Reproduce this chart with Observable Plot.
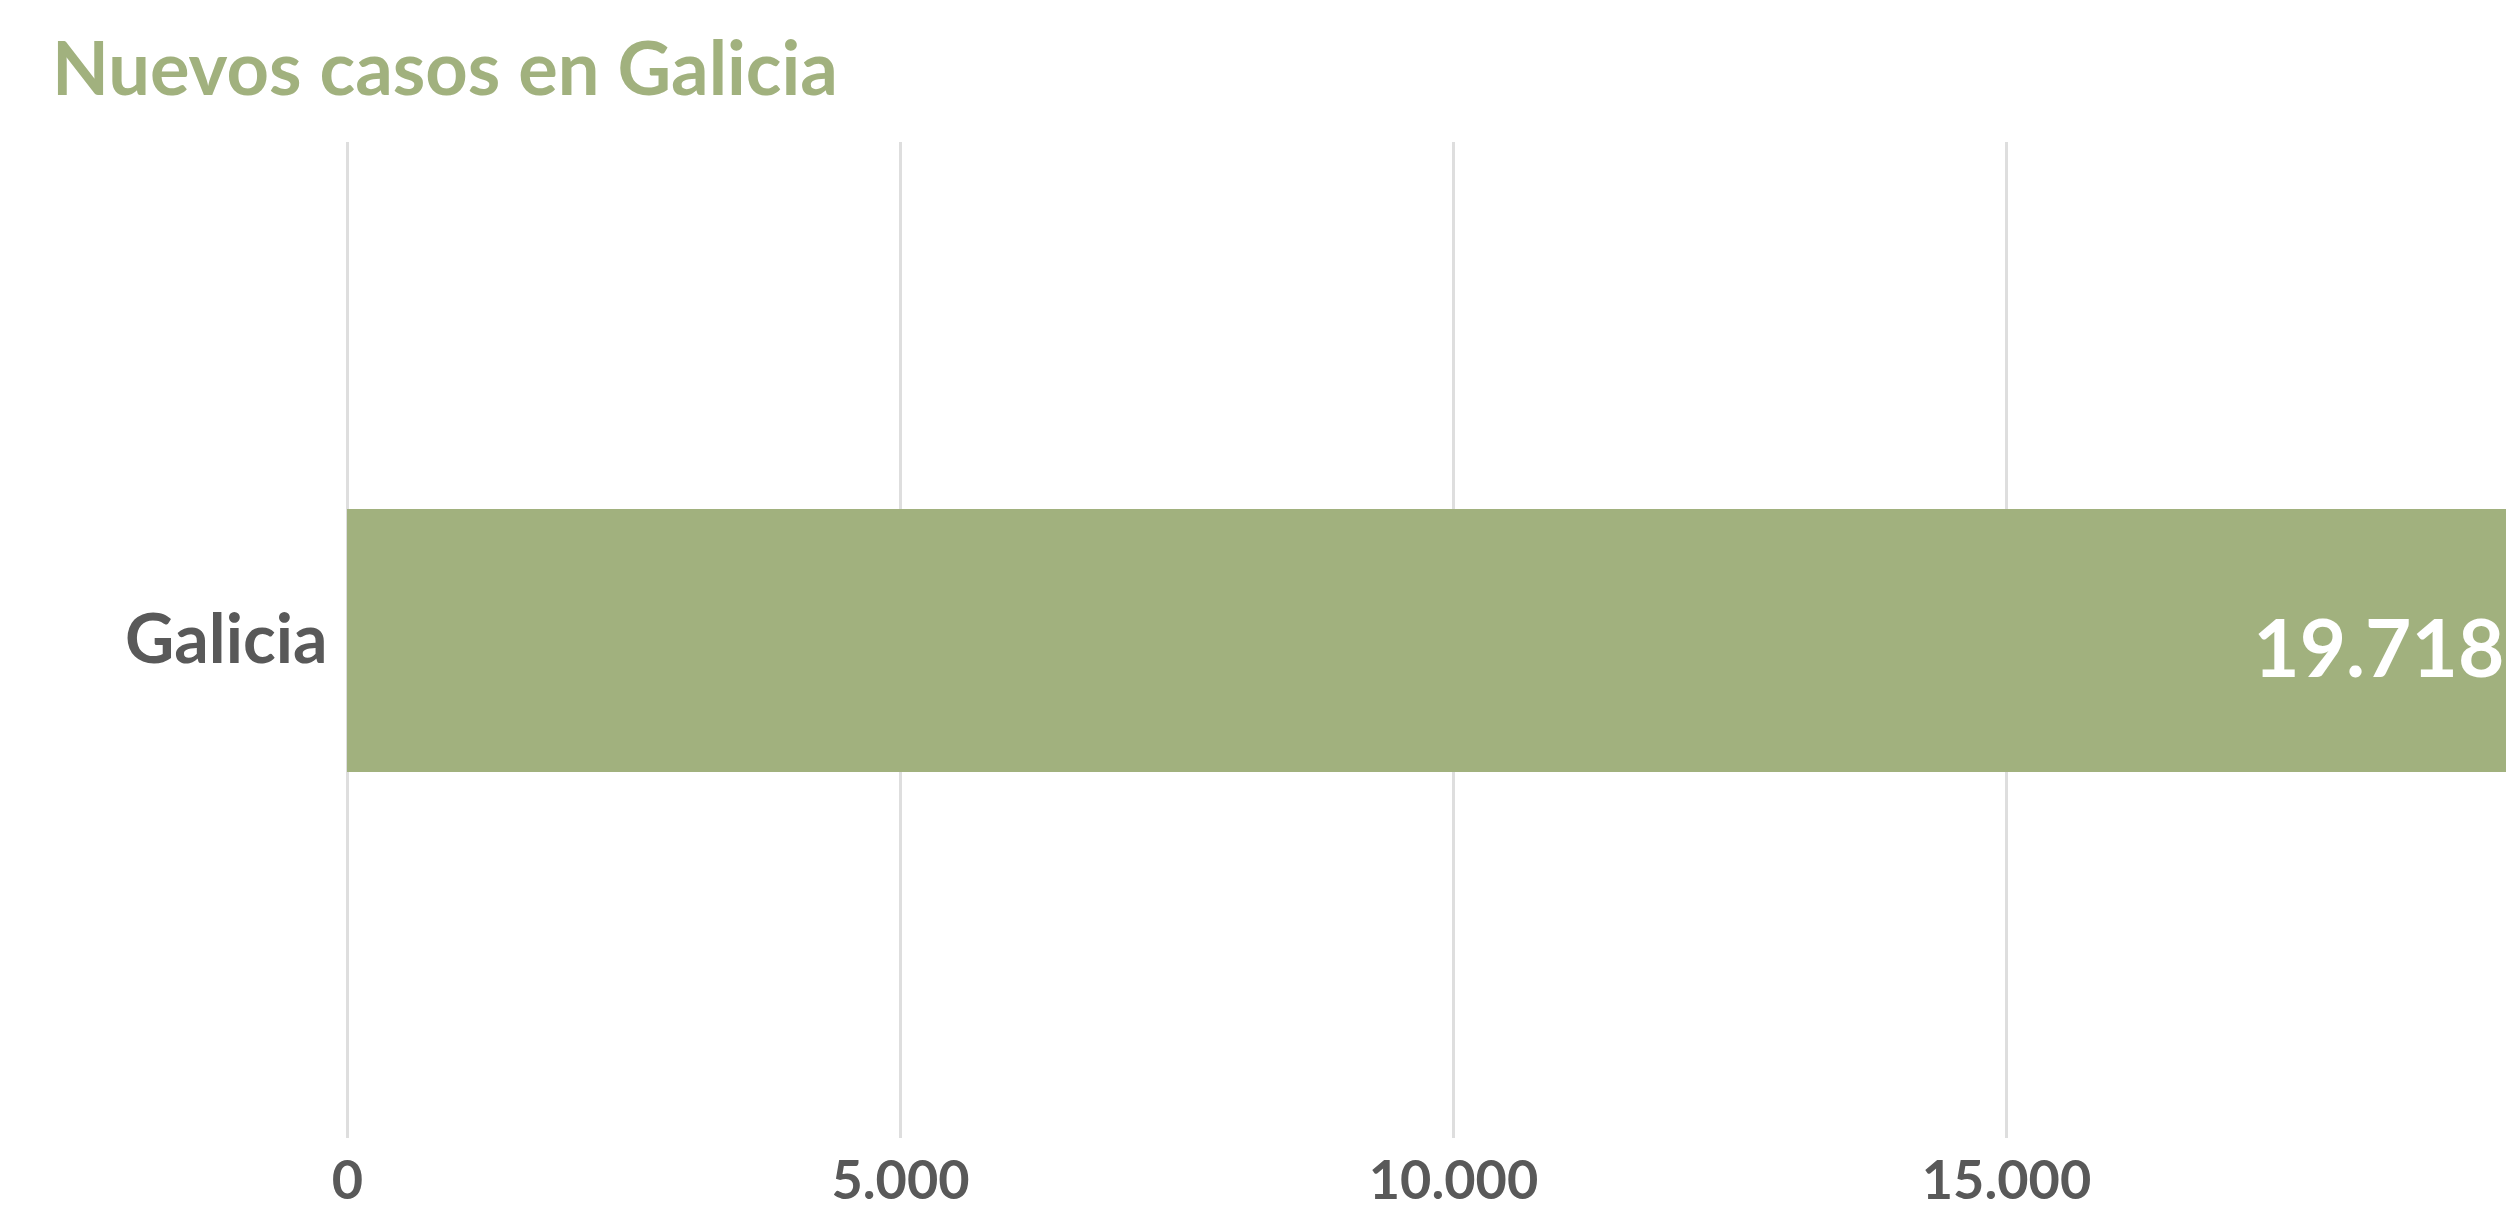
<!DOCTYPE html>
<html>
<head>
<meta charset="utf-8">
<script src="https://cdn.jsdelivr.net/npm/d3@7"></script>
<script src="https://cdn.jsdelivr.net/npm/@observablehq/plot@0.6"></script>
<style>
  html, body { margin: 0; padding: 0; background: #ffffff; overflow: hidden; }
  #title {
    box-sizing: border-box;
    height: 130px;
    padding-top: 30px;
    padding-left: 52px;
    font-family: Lato, "Open Sans", sans-serif;
    font-weight: 700;
    font-size: 74px;
    line-height: 74px;
    color: #a1b17e;
    white-space: nowrap;
  }
  #chart svg { display: block; }
</style>
</head>
<body>
<div id="title">Nuevos casos en Galicia</div>
<div id="chart"></div>
<script>
// ---- data ----
const categories = ["Galicia"];
const values = [19718];
const tickValues = [0, 5000, 10000, 15000, 20000];
const tickLabelValues = [0, 5000, 10000, 15000];

// Spanish number format (thousands separator ".")
const es = d3.formatLocale({decimal: ",", thousands: ".", grouping: [3], currency: ["", " €"]});
const fmt = es.format(",");

const rows = categories.map((c, i) => ({category: c, value: values[i]}));

const green = "#a1b17e";
const grey = "#595959";

const chart = Plot.plot({
  width: 2506,
  height: 1080,
  marginTop: 12,
  marginBottom: 72,
  marginLeft: 347,
  marginRight: 0,
  style: {color: grey, fontFamily: "Lato, 'Open Sans', sans-serif", background: "#ffffff", overflow: "hidden"},
  x: {domain: [0, 20000], range: [347, 2559], label: null},
  y: {domain: categories, padding: 0.582, label: null},
  marks: [
    Plot.ruleX(tickValues, {stroke: "#dedede", strokeWidth: 3}),
    Plot.barX(rows, {x: "value", y: "category", fill: green}),
    Plot.text(rows, {
      x: "value", y: "category", text: d => fmt(d.value),
      fill: "#ffffff", fontSize: 80, fontWeight: "bold",
      textAnchor: "end", dx: -24, dy: 10
    }),
    Plot.axisY(categories, {
      tickSize: 0, tickPadding: 20, fontSize: 68, fontWeight: "bold", label: null
    }),
    Plot.axisX(tickLabelValues, {
      tickSize: 0, tickPadding: 22, fontSize: 54, fontWeight: "bold",
      tickFormat: fmt, label: null
    })
  ]
});
document.getElementById("chart").appendChild(chart);
</script>
</body>
</html>
